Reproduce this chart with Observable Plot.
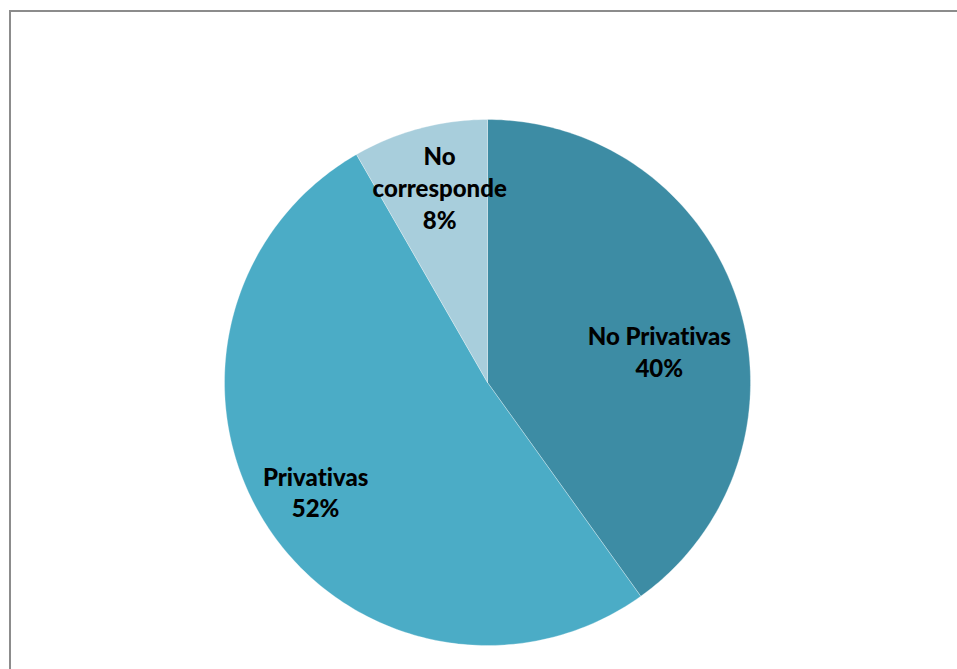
<!DOCTYPE html>
<html>
<head>
<meta charset="utf-8">
<script src="https://cdn.jsdelivr.net/npm/d3@7"></script>
<script src="https://cdn.jsdelivr.net/npm/@observablehq/plot@0.6"></script>
<style>
  html, body { margin: 0; padding: 0; background: #ffffff; overflow: hidden; }
  #wrap { position: relative; width: 957px; height: 669px; }
  #frame { position: absolute; left: 9px; top: 10px; width: 1000px; height: 700px;
           border-left: 2px solid #8c8c8c; border-top: 2px solid #8c8c8c; pointer-events: none; }
  #chart { position: absolute; left: 0; top: 0; }
  #chart text { font-variant-ligatures: none; font-feature-settings: "liga" 0; }
</style>
</head>
<body>
<div id="wrap"><div id="chart"></div><div id="frame"></div></div>
<script>
// Data (clockwise from 12 o'clock)
const categories = ["No Privativas", "Privativas", "No corresponde"];
const values = [40.1, 51.6, 8.3];
const labels = ["No Privativas\n40%", "Privativas\n52%", "No\ncorresponde\n8%"];
const colors = ["#3d8ca4", "#4bacc6", "#a8cedc"];

// Build slice polygons in unit-circle coordinates from the values
const total = d3.sum(values);
let acc = 0;
const slices = categories.map((c, i) => {
  const a0 = acc / total * 2 * Math.PI;
  acc += values[i];
  const a1 = acc / total * 2 * Math.PI;
  return {category: c, a0, a1, mid: (a0 + a1) / 2, label: labels[i]};
});
const polyPts = [];
for (const s of slices) {
  const n = Math.max(2, Math.ceil((s.a1 - s.a0) / (Math.PI / 180)));
  polyPts.push({category: s.category, x: 0, y: 0});
  for (let k = 0; k <= n; k++) {
    const a = s.a0 + (s.a1 - s.a0) * k / n;
    polyPts.push({category: s.category, x: Math.sin(a), y: Math.cos(a)});
  }
  polyPts.push({category: s.category, x: 0, y: 0});
}
const labelR = 0.75;
const labelPts = slices.map(s => ({category: s.category, label: s.label,
  x: labelR * Math.sin(s.mid), y: labelR * Math.cos(s.mid)}));

// per-label nudges (Excel best-fit placement)
const nudges = {"No Privativas": [-16, 29], "Privativas": [-6, 2], "No corresponde": [3, -5]};

const textMarks = labelPts.map(p => Plot.text([p], {
  x: "x", y: "y", text: "label",
  dx: nudges[p.category][0], dy: nudges[p.category][1],
  fill: "#000000", fontWeight: 900, fontSize: 24, lineHeight: 1.33,
  fontFamily: "Lato, 'Open Sans', sans-serif", textAnchor: "middle"
}));

const chart = Plot.plot({
  width: 957,
  height: 669,
  marginLeft: 224,
  marginRight: 207,
  marginTop: 119,
  marginBottom: 24,
  x: {domain: [-1, 1], axis: null},
  y: {domain: [-1, 1], axis: null},
  color: {domain: categories, range: colors},
  style: {background: "transparent"},
  marks: [
    Plot.line(polyPts, {x: "x", y: "y", z: "category", fill: "category",
      stroke: "#ffffff", strokeWidth: 0.6, strokeOpacity: 0.5, curve: "linear"}),
    ...textMarks
  ]
});
document.getElementById("chart").appendChild(chart);
</script>
</body>
</html>
